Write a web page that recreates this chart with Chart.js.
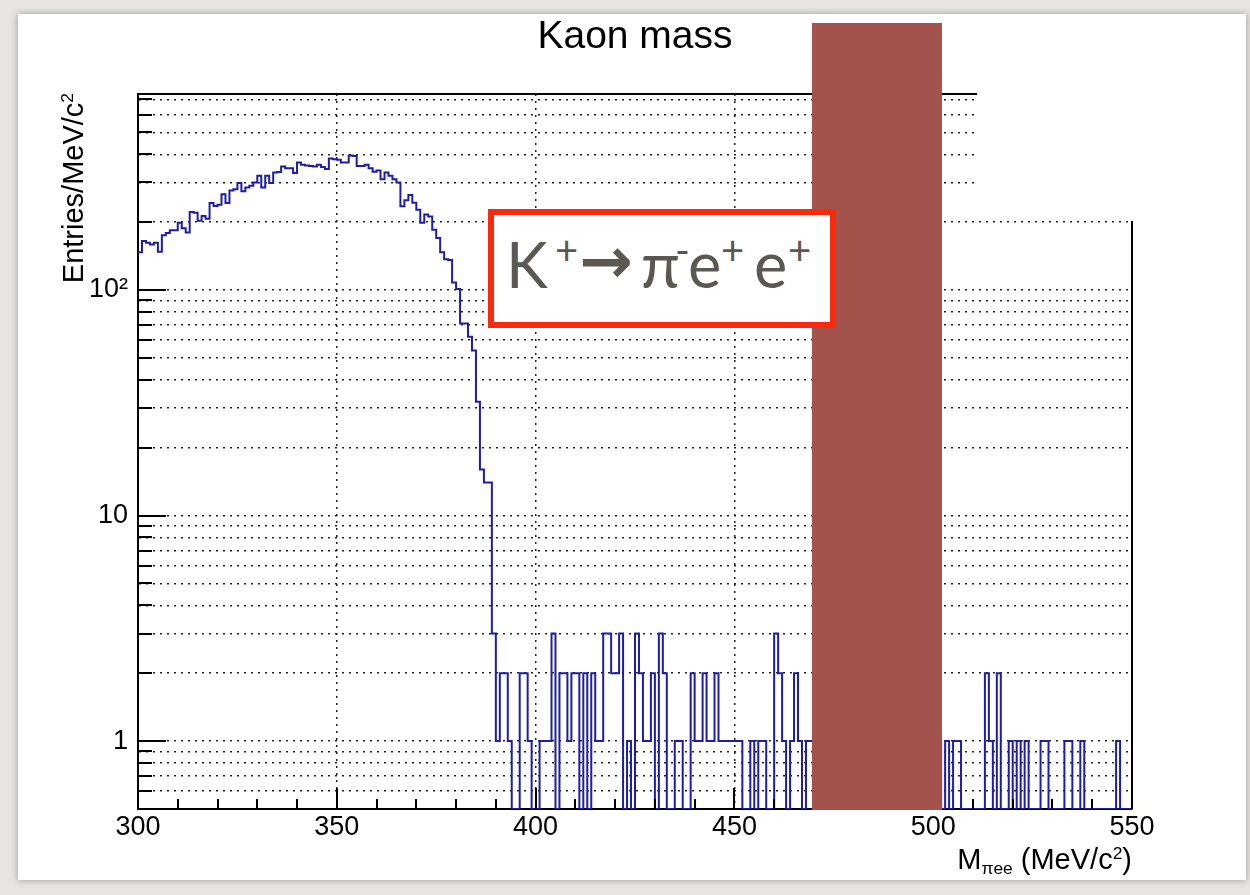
<!DOCTYPE html>
<html>
<head>
<meta charset="utf-8">
<script src="https://cdn.jsdelivr.net/npm/chart.js@4.4.0/dist/chart.umd.min.js"></script>
<style>
html,body{margin:0;padding:0;}
body{width:1250px;height:895px;position:relative;overflow:hidden;background:#e7e5e2;font-family:"Liberation Sans",Arial,sans-serif;}
#card{position:absolute;left:18px;top:14px;width:1228px;height:866px;background:#fff;box-shadow:0 0 7px rgba(0,0,0,0.35);}
#c{position:absolute;left:0;top:0;}
.txt{position:absolute;white-space:nowrap;color:#000;}
#title{left:335px;width:600px;top:16px;text-align:center;font-size:39px;line-height:38px;}
#ytitle{left:58px;top:393px;width:300px;text-align:right;font-size:29px;line-height:30px;transform-origin:0 0;transform:rotate(-90deg);}
#xtitle{left:700px;width:432px;text-align:right;top:845px;font-size:29px;line-height:28px;}
.sup{font-size:60%;position:relative;top:-0.55em;}
.sub{font-size:60%;position:relative;top:0.3em;}
#box{position:absolute;left:488px;top:209px;width:336px;height:107px;border:6px solid #fc2a0d;background:#fff;}
#ktext span{position:absolute;white-space:nowrap;color:#5b5853;font-family:Lato,"Open Sans",sans-serif;}
#ktext .km{font-size:63px;line-height:63px;top:17px;}
#ktext .ks{font-size:40px;line-height:40px;top:15px;}
#ktext .arr{font-family:"DejaVu Sans";font-weight:bold;font-size:64px;line-height:64px;top:14px;}
</style>
</head>
<body>
<div id="card"></div>
<canvas id="c" width="1250" height="895"></canvas>
<div class="txt" id="title">Kaon mass</div>
<div class="txt" id="ytitle">Entries/MeV/c<span class="sup">2</span></div>
<div class="txt" id="xtitle">M<span class="sub">πee</span> (MeV/c<span class="sup">2</span>)</div>
<div id="box"><div id="ktext"><span class="km" style="left:12px">K</span><span class="ks" style="left:61px">+</span><span class="arr" style="left:85px">→</span><span class="km" style="left:147px">π</span><span class="ks" style="left:181px">-</span><span class="km" style="left:194px">e</span><span class="ks" style="left:227px">+</span><span class="km" style="left:260px">e</span><span class="ks" style="left:294px">+</span></div></div>
<script>
// ---- data (1 MeV bins, 300..549) ----
const X_MIN = 300, X_MAX = 550, BIN_WIDTH = 1;
const Y_MIN = 0.5, Y_MAX = 740;

const COUNTS_300_349 = [147,165,162,159,162,148,175,179,184,184,
                        199,188,180,222,220,203,213,207,243,236,
                        239,266,243,276,280,298,274,285,290,300,
                        321,285,321,298,332,334,353,347,347,330,
                        368,359,357,355,353,359,351,344,383,380];
const COUNTS_350_399 = [378,368,368,395,393,355,355,359,347,335,
                        339,310,332,321,310,300,235,250,264,244,
                        227,199,216,212,185,170,147,137,136,108,
                        101,71,71,62,54,32,16,14,14,3,
                        1,2,2,1,0,0,2,2,1,0];
const COUNTS_400_449 = [0,1,1,1,3,0,2,2,1,2,
                        2,0,2,0,2,1,1,3,3,2,
                        2,3,0,1,0,3,2,1,1,2,
                        0,3,2,0,0,1,1,0,0,2,
                        1,1,2,1,1,2,1,1,1,1];
const COUNTS_450_499 = [1,1,0,0,1,0,1,1,0,0,
                        3,2,1,0,1,2,1,0,1,1,
                        1,0,2,1,1,0,1,2,1,0,
                        1,1,0,2,1,1,0,1,0,1,
                        2,1,0,1,1,0,1,0,2,1];
const COUNTS_500_549 = [0,1,0,1,0,1,1,0,0,0,
                        0,0,0,2,1,0,2,0,0,1,
                        0,1,0,1,0,0,0,1,1,0,
                        0,0,0,1,1,0,0,1,0,0,
                        0,0,0,0,0,0,1,0,0,0];

const X_TICKS = [300,350,400,450,500,550];
const X_MINOR_TICKS = [310,320,330,340,360,370,380,390,410,420,430,440,460,470,480,490,510,520,530,540];
const Y_GRID = [0.6,0.7,0.8,0.9,1,2,3,4,5,6,7,8,9,10,20,30,40,50,60,70,80,90,100,200,300,400,500,600,700];
const Y_LABELS = {1:'1', 10:'10', 100:'10²'};
const BAND = [469.5, 502.2];
const BAND_COLOR = '#a3524c';
const LINE_COLOR = '#1d1da8';

const counts = [].concat(COUNTS_300_349, COUNTS_350_399, COUNTS_400_449, COUNTS_450_499, COUNTS_500_549);
const points = counts.map((c, i) => ({x: X_MIN + i * BIN_WIDTH, y: c > 0 ? c : Y_MIN}));
points.push({x: X_MIN + counts.length * BIN_WIDTH, y: points[points.length - 1].y});

const FONT = {family: "'Liberation Sans', Arial, sans-serif", size: 27};

const rootFrame = {
  id: 'rootFrame',
  afterDraw(chart) {
    const {ctx, chartArea: a, scales: {x, y}} = chart;
    const line = (x1, y1, x2, y2) => { ctx.beginPath(); ctx.moveTo(x1, y1); ctx.lineTo(x2, y2); ctx.stroke(); };
    ctx.save();
    ctx.strokeStyle = '#000';
    ctx.lineWidth = 2;
    Y_GRID.forEach(v => {
      const py = Math.round(y.getPixelForValue(v));
      line(a.left, py, a.left + (Y_LABELS[v] ? 28 : 14), py);
    });
    X_TICKS.forEach(v => {
      const px = Math.round(x.getPixelForValue(v));
      line(px, a.bottom, px, a.bottom - 21);
    });
    X_MINOR_TICKS.forEach(v => {
      const px = Math.round(x.getPixelForValue(v));
      line(px, a.bottom, px, a.bottom - 10);
    });
    line(a.left, a.top, a.right, a.top);
    line(a.right, a.top, a.right, a.bottom);
    // white cover (slide overlay) at the upper right
    ctx.fillStyle = '#fff';
    ctx.fillRect(977, 80, 172, 141);
    // highlighted band
    const bx0 = x.getPixelForValue(BAND[0]), bx1 = x.getPixelForValue(BAND[1]);
    ctx.fillStyle = BAND_COLOR;
    ctx.fillRect(bx0, 23, bx1 - bx0, a.bottom + 1 - 23);
    ctx.restore();
  }
};

new Chart(document.getElementById('c'), {
  type: 'line',
  data: {
    datasets: [{
      data: points,
      stepped: 'before',
      borderColor: LINE_COLOR,
      borderWidth: 2,
      pointRadius: 0,
      fill: false,
      tension: 0
    }]
  },
  options: {
    responsive: false,
    devicePixelRatio: 1,
    animation: false,
    layout: {padding: {left: 0, right: 118, top: 94, bottom: 0}},
    plugins: {legend: {display: false}, title: {display: false}, tooltip: {enabled: false}},
    scales: {
      x: {
        type: 'linear', min: X_MIN, max: X_MAX,
        afterBuildTicks: (s) => { s.ticks = X_TICKS.map(v => ({value: v})); },
        afterFit: (s) => { s.height = 86; },
        ticks: {autoSkip: false, maxRotation: 0, padding: 2, color: '#000', font: FONT, callback: (v) => String(v)},
        grid: {color: '#222', lineWidth: 1.5, drawTicks: false},
        border: {display: true, color: '#000', width: 2, dash: [2, 5]}
      },
      y: {
        type: 'logarithmic', min: Y_MIN, max: Y_MAX,
        afterBuildTicks: (s) => { s.ticks = Y_GRID.map(v => ({value: v})); },
        afterFit: (s) => { s.width = 138; },
        ticks: {autoSkip: false, padding: 10, color: '#000', font: FONT, callback: (v) => (Y_LABELS[v] !== undefined ? Y_LABELS[v] : '')},
        grid: {color: '#222', lineWidth: 1.5, drawTicks: false},
        border: {display: true, color: '#000', width: 2, dash: [2, 5]}
      }
    }
  },
  plugins: [rootFrame]
});
</script>
</body>
</html>
